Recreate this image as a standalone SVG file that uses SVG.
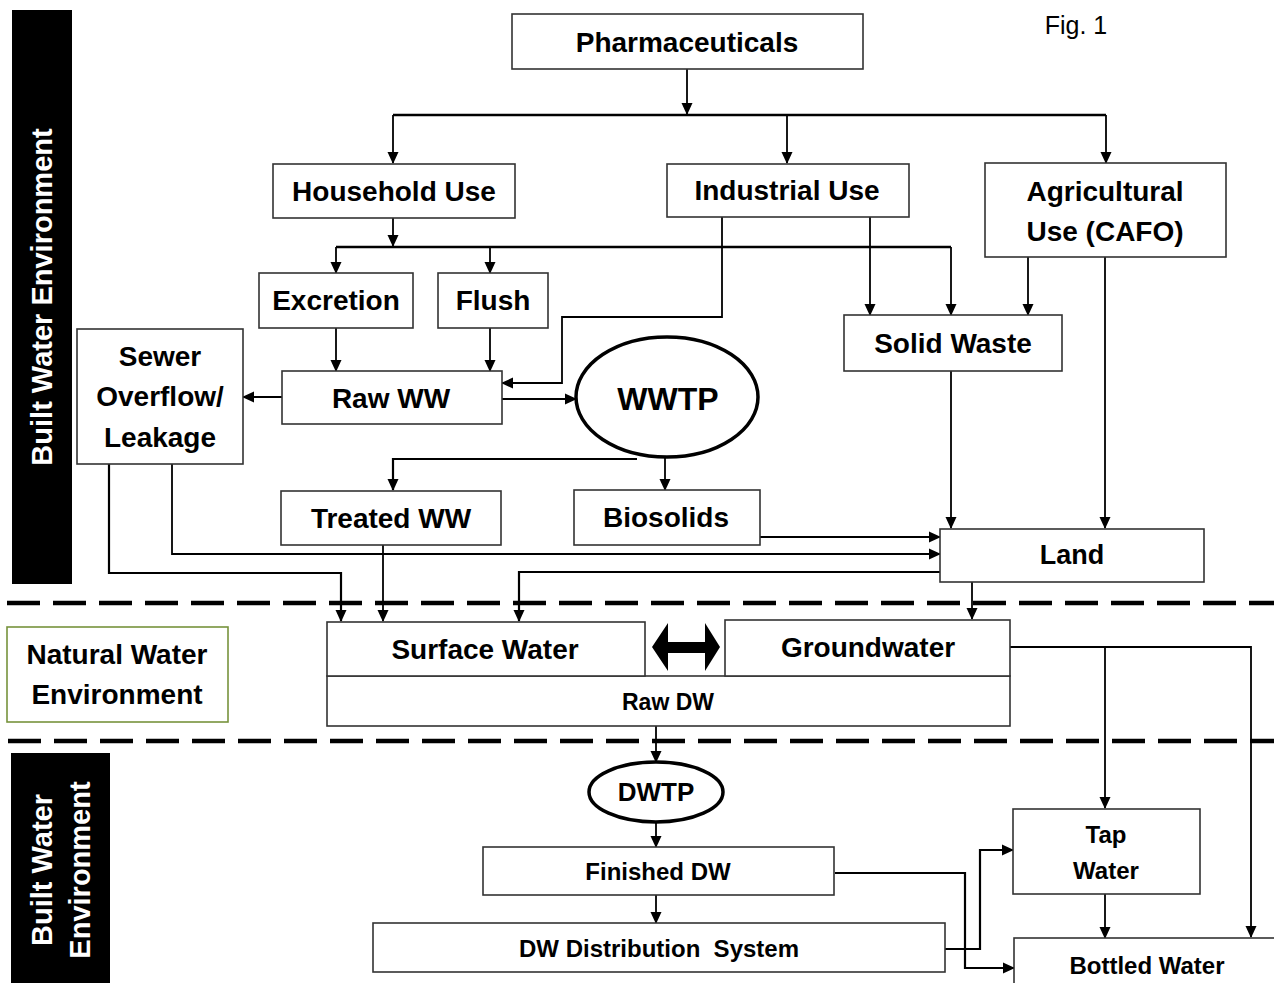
<svg xmlns="http://www.w3.org/2000/svg" width="1274" height="983" viewBox="0 0 1274 983">
<defs>
<marker id="ah" markerUnits="userSpaceOnUse" markerWidth="12" markerHeight="12" viewBox="0 0 12 12" refX="11" refY="6" orient="auto">
<path d="M0,0.5 L12,6 L0,11.5 Z" fill="#000"/>
</marker>
<style>
.box{fill:#fff;stroke:#333;stroke-width:1.6}
.t{font-family:"Liberation Sans",Arial,sans-serif;font-weight:bold;fill:#000;text-anchor:middle;dominant-baseline:central}
.big{font-size:28px}
.sm{font-size:24px}
.c{fill:none;stroke:#000;stroke-width:1.8}
.ca{fill:none;stroke:#000;stroke-width:1.8;marker-end:url(#ah)}
.dash{fill:none;stroke:#000;stroke-width:4.5;stroke-dasharray:33 13}
.ell{fill:#fff;stroke:#000;stroke-width:3.5}
.wt{font-family:"Liberation Sans",Arial,sans-serif;font-weight:bold;fill:#fff;text-anchor:middle;dominant-baseline:central;font-size:29px}
</style>
</defs>
<rect width="1274" height="983" fill="#fff"/>

<g id="bands">
<rect x="12" y="10" width="60" height="574" fill="#000"/>
<text class="wt" transform="translate(42,297) rotate(-90)">Built Water Environment</text>
<rect x="11" y="753" width="99" height="235" fill="#000"/>
<text class="wt" transform="translate(42,870) rotate(-90)">Built Water</text>
<text class="wt" transform="translate(80,870) rotate(-90)">Environment</text>
<path class="dash" d="M7,603 H1274"/>
<path class="dash" d="M8,741 H1274"/>
<text x="1076" y="25" style="font-family:'Liberation Sans',Arial,sans-serif;font-size:25px;fill:#000;text-anchor:middle;dominant-baseline:central">Fig. 1</text>
</g>

<g id="natural-env">
<rect x="7" y="627" width="221" height="95" fill="#fff" stroke="#77933C" stroke-width="1.6"/>
<text class="t big" x="117" y="654">Natural Water</text>
<text class="t big" x="117" y="694">Environment</text>
</g>

<g id="connectors">
<path class="ca" d="M687,69 V114"/>
<path class="c" d="M393,115 H1106" style="stroke-width:2.5"/>
<path class="ca" d="M393,115 V163"/>
<path class="ca" d="M787,115 V163"/>
<path class="ca" d="M1106,115 V163"/>
<path class="ca" d="M393,217 V246"/>
<path class="c" d="M336,247 H951" style="stroke-width:2.5"/>
<path class="ca" d="M336,247 V273"/>
<path class="ca" d="M490,247 V273"/>
<path class="ca" d="M951,247 V315"/>
<path class="ca" d="M722,217 V317 H562 V383 H502"/>
<path class="ca" d="M870,217 V315"/>
<path class="ca" d="M1028,257 V315"/>
<path class="ca" d="M1105,257 V528"/>
<path class="ca" d="M336,328 V371"/>
<path class="ca" d="M490,328 V371"/>
<path class="ca" d="M282,397 H243"/>
<path class="ca" d="M502,399 H576"/>
<path class="ca" d="M637,459 H393 V490" style="stroke-width:2.2"/>
<path class="ca" d="M665,458 V490"/>
<path class="ca" d="M951,371 V528"/>
<path class="ca" d="M760,537 H940"/>
<path class="ca" d="M172,464 V554 H940"/>
<path class="ca" d="M109,464 V573 H341 V621" style="stroke-width:2.2"/>
<path class="ca" d="M383,545 V621"/>
<path class="ca" d="M940,572 H519 V621" style="stroke-width:2.2"/>
<path class="ca" d="M972,582 V619"/>
<polygon points="652,647 668,623 668,642 705,642 705,623 720,647 705,671 705,653 668,653 668,671" fill="#000"/>
<path class="ca" d="M656,726 V762"/>
<path class="ca" d="M656,822 V847"/>
<path class="ca" d="M656,895 V923"/>
<path class="ca" d="M835,873 H965 V968 H1014" style="stroke-width:2.2"/>
<path class="ca" d="M945,949 H980 V850 H1013" style="stroke-width:2.2"/>
<path class="ca" d="M1010,647 H1251 V937"/>
<path class="ca" d="M1105,647 V808"/>
<path class="ca" d="M1105,894 V938"/>
</g>

<g id="pharmaceuticals">
<rect class="box" x="512" y="14" width="351" height="55"/>
<text class="t big" x="687" y="42">Pharmaceuticals</text>
</g>
<g id="household-use">
<rect class="box" x="273" y="164" width="242" height="54"/>
<text class="t big" x="394" y="191">Household Use</text>
</g>
<g id="industrial-use">
<rect class="box" x="667" y="164" width="242" height="53"/>
<text class="t big" x="787" y="190">Industrial Use</text>
</g>
<g id="agricultural-use">
<rect class="box" x="985" y="163" width="241" height="94"/>
<text class="t big" x="1105" y="191">Agricultural</text>
<text class="t big" x="1105" y="231">Use (CAFO)</text>
</g>
<g id="excretion">
<rect class="box" x="259" y="273" width="154" height="55"/>
<text class="t big" x="336" y="300">Excretion</text>
</g>
<g id="flush">
<rect class="box" x="438" y="273" width="110" height="55"/>
<text class="t big" x="493" y="300">Flush</text>
</g>
<g id="solid-waste">
<rect class="box" x="844" y="315" width="218" height="56"/>
<text class="t big" x="953" y="343">Solid Waste</text>
</g>
<g id="sewer-overflow">
<rect class="box" x="77" y="329" width="166" height="135"/>
<text class="t big" x="160" y="356">Sewer</text>
<text class="t big" x="160" y="396">Overflow/</text>
<text class="t big" x="160" y="437">Leakage</text>
</g>
<g id="raw-ww">
<rect class="box" x="282" y="371" width="220" height="53"/>
<text class="t big" x="391" y="398">Raw WW</text>
</g>
<g id="wwtp">
<ellipse class="ell" cx="667" cy="397" rx="91" ry="60"/>
<text class="t" style="font-size:32px" x="668" y="399">WWTP</text>
</g>
<g id="treated-ww">
<rect class="box" x="281" y="491" width="220" height="54"/>
<text class="t big" x="391" y="518">Treated WW</text>
</g>
<g id="biosolids">
<rect class="box" x="574" y="490" width="186" height="55"/>
<text class="t big" x="666" y="517">Biosolids</text>
</g>
<g id="land">
<rect class="box" x="940" y="529" width="264" height="53"/>
<text class="t" style="font-size:27px" x="1072" y="555">Land</text>
</g>
<g id="raw-dw">
<rect class="box" x="327" y="676" width="683" height="50"/>
<text class="t" style="font-size:23px" x="668" y="702">Raw DW</text>
</g>
<g id="surface-water">
<rect class="box" x="327" y="622" width="318" height="54"/>
<text class="t big" x="485" y="649">Surface Water</text>
</g>
<g id="groundwater">
<rect class="box" x="725" y="620" width="285" height="56"/>
<text class="t big" x="868" y="647">Groundwater</text>
</g>
<g id="dwtp">
<ellipse class="ell" cx="656" cy="792" rx="67" ry="30"/>
<text class="t" style="font-size:26px" x="656" y="792">DWTP</text>
</g>
<g id="finished-dw">
<rect class="box" x="483" y="847" width="351" height="48"/>
<text class="t sm" x="658" y="871">Finished DW</text>
</g>
<g id="dw-distribution">
<rect class="box" x="373" y="923" width="572" height="49"/>
<text class="t sm" x="659" y="948" xml:space="preserve">DW Distribution  System</text>
</g>
<g id="tap-water">
<rect class="box" x="1013" y="809" width="187" height="85"/>
<text class="t sm" x="1106" y="834">Tap</text>
<text class="t sm" x="1106" y="870">Water</text>
</g>
<g id="bottled-water">
<rect class="box" x="1014" y="938" width="280" height="70"/>
<text class="t sm" x="1147" y="965">Bottled Water</text>
</g>
</svg>
